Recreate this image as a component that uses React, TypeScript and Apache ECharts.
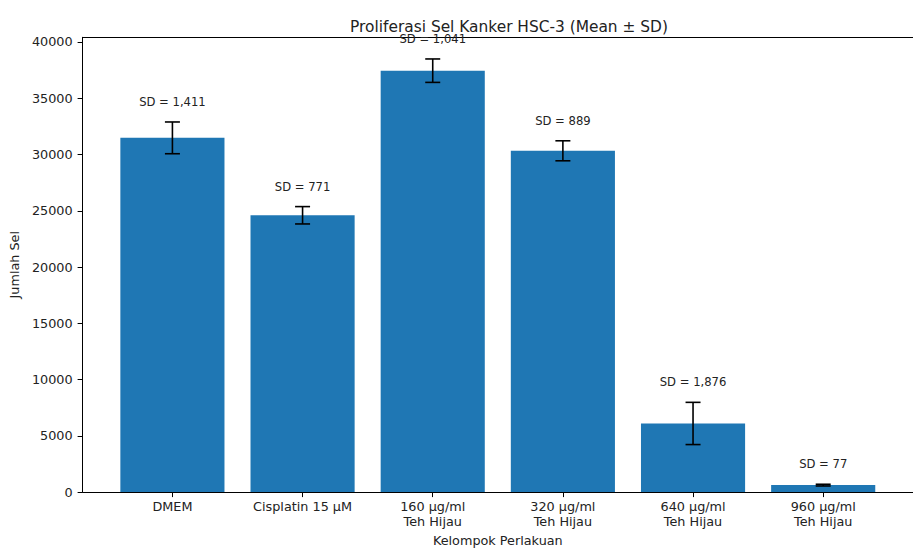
import React, { useEffect, useRef } from "react";
import * as echarts from "echarts";

const categories = [
  "DMEM",
  "Cisplatin 15 µM",
  "160 µg/ml\nTeh Hijau",
  "320 µg/ml\nTeh Hijau",
  "640 µg/ml\nTeh Hijau",
  "960 µg/ml\nTeh Hijau",
];
const means = [31480, 24600, 37450, 30330, 6100, 620];
const sds = [1411, 771, 1041, 889, 1876, 77];
const yTicks = [0, 5000, 10000, 15000, 20000, 25000, 30000, 35000, 40000];

const FONT = "DejaVu Sans";
const BAR_COLOR = "#1f77b4";

export default function App() {
  const ref = useRef<HTMLDivElement>(null);

  useEffect(() => {
    if (!ref.current) return;
    const chart = echarts.init(ref.current, null, { renderer: "svg" });

    const n = categories.length;
    const barHalf = 0.4;
    const xMin = -barHalf - 0.05 * (n - 1 + 2 * barHalf);
    const xMax = n - 1 + barHalf + 0.05 * (n - 1 + 2 * barHalf);
    const topVal = Math.max(...means.map((m, i) => m + sds[i]));
    const yMax = topVal * 1.05;
    const xIdx = categories.map((_, i) => i);

    const data = means.map((m, i) => [i, m, sds[i]]);

    const option: any = {
      animation: false,
      backgroundColor: "#ffffff",
      title: {
        text: "Proliferasi Sel Kanker HSC-3 (Mean ± SD)",
        left: 504,
        top: 14,
        textAlign: "center",
        textStyle: {
          fontFamily: FONT,
          fontSize: 15.4,
          fontWeight: "normal",
          color: "#222",
        },
      },
      grid: {
        left: 82,
        top: 37.3,
        width: 845,
        bottom: 53.7,
        containLabel: false,
      },
      xAxis: [
        {
          type: "value",
          min: xMin,
          max: xMax,
          name: "Kelompok Perlakuan",
          nameLocation: "middle",
          nameGap: 41,
          nameTextStyle: { fontFamily: FONT, fontSize: 12.8, color: "#222" },
          axisLine: { show: true, onZero: false, lineStyle: { color: "#000", width: 1 } },
          axisTick: {
            show: true,
            length: 5,
            customValues: xIdx,
            lineStyle: { color: "#000", width: 1 },
          },
          axisLabel: {
            show: true,
            customValues: xIdx,
            margin: 7,
            fontFamily: FONT,
            fontSize: 12.8,
            lineHeight: 15,
            color: "#222",
            formatter: (v: number) => categories[Math.round(v)] ?? "",
          },
          splitLine: { show: false },
        },
        {
          type: "value",
          position: "top",
          min: xMin,
          max: xMax,
          axisLine: { show: true, onZero: false, lineStyle: { color: "#000", width: 1 } },
          axisTick: { show: false },
          axisLabel: { show: false },
          splitLine: { show: false },
        },
      ],
      yAxis: {
        type: "value",
        min: 0,
        max: yMax,
        name: "Jumlah Sel",
        nameLocation: "middle",
        nameGap: 60,
        nameTextStyle: { fontFamily: FONT, fontSize: 12.8, color: "#222" },
        axisLine: { show: true, onZero: false, lineStyle: { color: "#000", width: 1 } },
        axisTick: {
          show: true,
          length: 5,
          customValues: yTicks,
          lineStyle: { color: "#000", width: 1 },
        },
        axisLabel: {
          customValues: yTicks,
          margin: 10,
          fontFamily: FONT,
          fontSize: 12.8,
          color: "#222",
          formatter: (v: number) => String(Math.round(v)),
        },
        splitLine: { show: false },
      },
      series: [
        {
          type: "custom",
          xAxisIndex: 0,
          encode: { x: 0, y: 1 },
          data,
          renderItem: (params: any, api: any) => {
            const x = api.value(0);
            const m = api.value(1);
            const sd = api.value(2);
            const tl = api.coord([x - barHalf, m]);
            const br = api.coord([x + barHalf, 0]);
            const top = api.coord([x, m + sd]);
            const bot = api.coord([x, m - sd]);
            const cap = 7.5;
            const errStyle = { stroke: "#000", lineWidth: 1.6 };
            return {
              type: "group",
              children: [
                {
                  type: "rect",
                  shape: { x: tl[0], y: tl[1], width: br[0] - tl[0], height: br[1] - tl[1] },
                  style: { fill: BAR_COLOR },
                },
                {
                  type: "line",
                  shape: { x1: top[0], y1: top[1], x2: bot[0], y2: bot[1] },
                  style: errStyle,
                },
                {
                  type: "line",
                  shape: { x1: top[0] - cap, y1: top[1], x2: top[0] + cap, y2: top[1] },
                  style: errStyle,
                },
                {
                  type: "line",
                  shape: { x1: bot[0] - cap, y1: bot[1], x2: bot[0] + cap, y2: bot[1] },
                  style: errStyle,
                },
                {
                  type: "text",
                  x: top[0],
                  y: top[1] - 20,
                  style: {
                    text: "SD = " + sd.toLocaleString("en-US"),
                    fontFamily: FONT,
                    fontSize: 11.6,
                    fill: "#222",
                    align: "center",
                    verticalAlign: "middle",
                  },
                },
              ],
            };
          },
        },
      ],
    };

    chart.setOption(option);
    return () => chart.dispose();
  }, []);

  return (
    <div
      ref={ref}
      style={{ position: "absolute", left: 0, top: 0, width: 913, height: 552 }}
    />
  );
}
